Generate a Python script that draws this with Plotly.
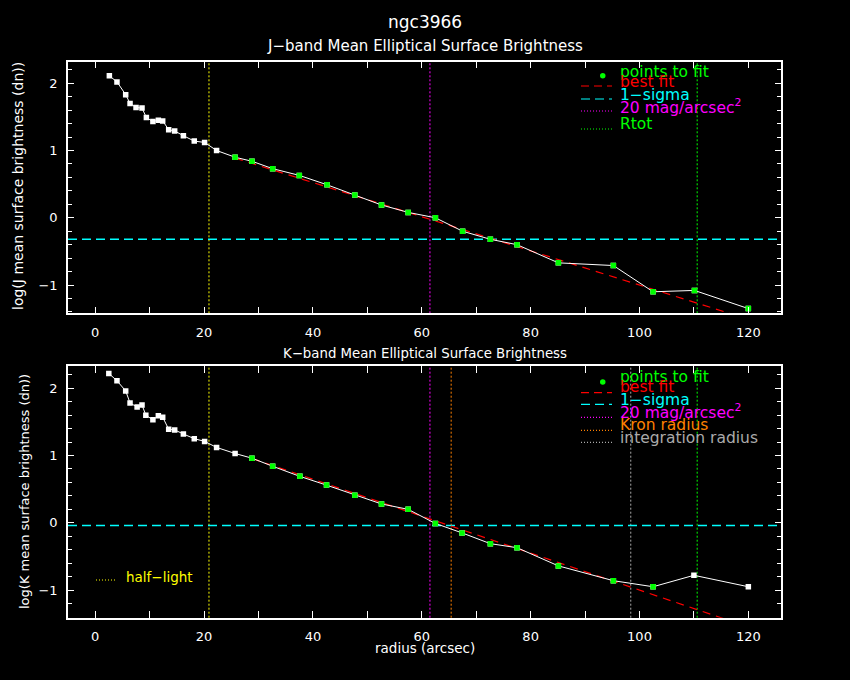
import plotly.graph_objects as go

# J band profile: radius (arcsec), log mean surface brightness (dn)
j_r = [2.6, 4.0, 5.6, 6.4, 7.5, 8.6, 9.4, 10.6, 11.6, 12.4, 13.5, 14.6, 16.2, 18.2, 20.1, 22.3,
       25.7, 28.8, 32.6, 37.5, 42.6, 47.7, 52.6, 57.5, 62.5, 67.5, 72.6, 77.5, 85.1, 95.2, 102.5, 110.1, 120.0]
j_sb = [2.11, 2.02, 1.83, 1.70, 1.64, 1.63, 1.49, 1.43, 1.45, 1.44, 1.31, 1.29, 1.22, 1.14, 1.12, 1.00,
        0.90, 0.84, 0.73, 0.63, 0.49, 0.34, 0.19, 0.08, 0.00, -0.20, -0.32, -0.40, -0.67, -0.71, -1.10, -1.08, -1.35]
j_fit = [False] * 16 + [True] * 17
j_fit_r = [25.7, 120.0]
j_fit_sb = [0.887, -1.508]
j_sigma = -0.32
j_half = 20.9
j_mag20 = 61.5
j_rtot = 110.6

# K band profile
k_r = [2.5, 4.0, 5.6, 6.4, 7.7, 8.6, 9.3, 10.6, 11.6, 12.4, 13.5, 14.6, 16.2, 18.2, 20.1, 22.3,
       25.7, 28.8, 32.6, 37.6, 42.5, 47.7, 52.6, 57.5, 62.5, 67.4, 72.6, 77.5, 85.1, 95.2, 102.5, 110.0, 120.0]
k_sb = [2.22, 2.11, 1.96, 1.78, 1.72, 1.75, 1.60, 1.53, 1.59, 1.57, 1.39, 1.38, 1.32, 1.25, 1.21, 1.12,
        1.03, 0.96, 0.84, 0.69, 0.56, 0.41, 0.28, 0.20, -0.01, -0.15, -0.31, -0.37, -0.64, -0.86, -0.95, -0.78, -0.95]
k_fit = [False] * 17 + [True] * 14 + [False] * 2
k_fit_r = [28.8, 120.0]
k_fit_sb = [0.955, -1.548]
k_sigma = -0.04
k_half = 20.9
k_mag20 = 61.5
k_kron = 65.4
k_integ = 98.4
k_rtot = 110.6

W, H = 850, 680
FONT = "DejaVu Sans"
GREEN, RED, CYAN, MAGENTA = "#00ff00", "#ff0000", "#00ffff", "#ff00ff"
YELLOW, ORANGE, GREY = "#ffff00", "#ff8000", "#aaaaaa"


def px(x):
    return x / W


def py(y):
    return 1 - y / H


fig = go.Figure()

shapes = []
annotations = []


def add_panel(xa, ya, r, sb, fit, fit_r, fit_sb, sigma, vlines):
    # vertical markers
    for xv, col in vlines:
        shapes.append(dict(type="line", xref=xa, yref=ya + " domain", x0=xv, x1=xv, y0=0, y1=1,
                           line=dict(color=col, width=1, dash="2px,2px"), layer="below"))
    # 1-sigma level
    shapes.append(dict(type="line", xref=xa + " domain", yref=ya, x0=0, x1=1, y0=sigma, y1=sigma,
                       line=dict(color=CYAN, width=1.5, dash="9px,5px"), layer="below"))
    fig.add_trace(go.Scatter(x=fit_r, y=fit_sb, mode="lines", xaxis=xa, yaxis=ya,
                             line=dict(color=RED, width=1.2, dash="8px,6px"), cliponaxis=True))
    fig.add_trace(go.Scatter(x=r, y=sb, mode="lines+markers", xaxis=xa, yaxis=ya,
                             line=dict(color="white", width=1),
                             marker=dict(color="white", size=5.5, symbol="square")))
    gr = [a for a, f in zip(r, fit) if f]
    gs = [b for b, f in zip(sb, fit) if f]
    fig.add_trace(go.Scatter(x=gr, y=gs, mode="markers", xaxis=xa, yaxis=ya,
                             marker=dict(color=GREEN, size=5.5, symbol="square")))


add_panel("x", "y", j_r, j_sb, j_fit, j_fit_r, j_fit_sb, j_sigma,
          [(j_half, YELLOW), (j_mag20, MAGENTA), (j_rtot, GREEN)])
add_panel("x2", "y2", k_r, k_sb, k_fit, k_fit_r, k_fit_sb, k_sigma,
          [(k_half, YELLOW), (k_mag20, MAGENTA), (k_kron, ORANGE), (k_integ, GREY), (k_rtot, GREEN)])


def legend(entries, marker_y):
    # marker sample for "points to fit"
    shapes.append(dict(type="circle", xref="paper", yref="paper",
                       x0=px(600), x1=px(605.5), y0=py(marker_y + 2.7), y1=py(marker_y - 2.7),
                       fillcolor=GREEN, line=dict(width=0)))
    for text, col, ty, ly, dash in entries:
        if ly is not None:
            shapes.append(dict(type="line", xref="paper", yref="paper", x0=px(581), x1=px(612),
                               y0=py(ly), y1=py(ly), line=dict(color=col, width=1.2, dash=dash)))
        annotations.append(dict(text=text, x=px(618), y=py(ty), xref="paper", yref="paper",
                                xanchor="left", yanchor="middle", showarrow=False,
                                font=dict(family=FONT, size=15.5, color=col)))


legend([
    ("points to fit", GREEN, 72, None, None),
    ("best fit", RED, 82, 86, "8px,5px"),
    ("1−sigma", CYAN, 95, 99, "9px,5px"),
    ("20 mag/arcsec<sup>2</sup>", MAGENTA, 106, 111, "1px,2px"),
    ("Rtot", GREEN, 124, 129, "1px,2px"),
], 75.7)
legend([
    ("points to fit", GREEN, 377, None, None),
    ("best fit", RED, 387, 392.7, "8px,5px"),
    ("1−sigma", CYAN, 400, 404.3, "9px,5px"),
    ("20 mag/arcsec<sup>2</sup>", MAGENTA, 411, 417.3, "1px,2px"),
    ("Kron radius", ORANGE, 425, 430.3, "1px,2px"),
    ("integration radius", GREY, 438, 442.3, "1px,2px"),
], 382)

# half-light legend in bottom panel
shapes.append(dict(type="line", xref="paper", yref="paper", x0=px(96), x1=px(117), y0=py(580), y1=py(580),
                   line=dict(color=YELLOW, width=1.2, dash="1px,2px")))
annotations.append(dict(text="half−light", x=px(124), y=py(577), xref="paper", yref="paper",
                        xanchor="left", yanchor="middle", showarrow=False,
                        font=dict(family=FONT, size=13.5, color=YELLOW)))

# titles
for text, x, y, size, angle in [
    ("ngc3966", 425, 22, 17, 0),
    ("J−band Mean Elliptical Surface Brightness", 425, 46, 15, 0),
    ("K−band Mean Elliptical Surface Brightness", 425, 353, 13.3, 0),
    ("radius (arcsec)", 425, 648, 13.5, 0),
    ("log(J mean surface brightness (dn))", 18, 186, 14, -90),
    ("log(K mean surface brightness (dn))", 24, 492, 13, -90),
]:
    annotations.append(dict(text=text, x=px(x), y=py(y), xref="paper", yref="paper",
                            xanchor="center", yanchor="middle", showarrow=False, textangle=angle,
                            font=dict(family=FONT, size=size, color="white")))

xaxis_style = dict(range=[-5, 126], dtick=20, tick0=0, ticks="inside", ticklen=7, tickcolor="white",
                   showline=True, linecolor="white", linewidth=1.5, mirror="ticks", showgrid=False,
                   zeroline=False, tickfont=dict(family=FONT, size=13, color="white"),
                   minor=dict(dtick=10, ticks="inside", ticklen=7, tickcolor="white"),
                   ticklabelstandoff=6)
yaxis_style = dict(dtick=1, tick0=0, ticks="inside", ticklen=6, tickcolor="white",
                   showline=True, linecolor="white", linewidth=1.5, mirror="ticks", showgrid=False,
                   zeroline=False, tickfont=dict(family=FONT, size=13, color="white"),
                   minor=dict(dtick=0.2, ticks="inside", ticklen=4, tickcolor="white"),
                   ticklabelstandoff=6)

fig.update_layout(
    width=W, height=H, autosize=False,
    paper_bgcolor="black", plot_bgcolor="black",
    margin=dict(l=0, r=0, t=0, b=0),
    showlegend=False,
    xaxis=dict(xaxis_style, domain=[px(68), px(781)], anchor="y"),
    yaxis=dict(yaxis_style, domain=[py(313.3), py(61.7)], range=[-1.42, 2.32], anchor="x"),
    xaxis2=dict(xaxis_style, domain=[px(68), px(781)], anchor="y2"),
    yaxis2=dict(yaxis_style, domain=[py(617.7), py(366)], range=[-1.41, 2.33], anchor="x2"),
    shapes=shapes,
    annotations=annotations,
)

# page has a default body margin; remove it so the figure fills the window
fig.write_html("out.html", config={"displayModeBar": False},
               post_script="document.body.style.margin='0';document.body.style.background='black';")
